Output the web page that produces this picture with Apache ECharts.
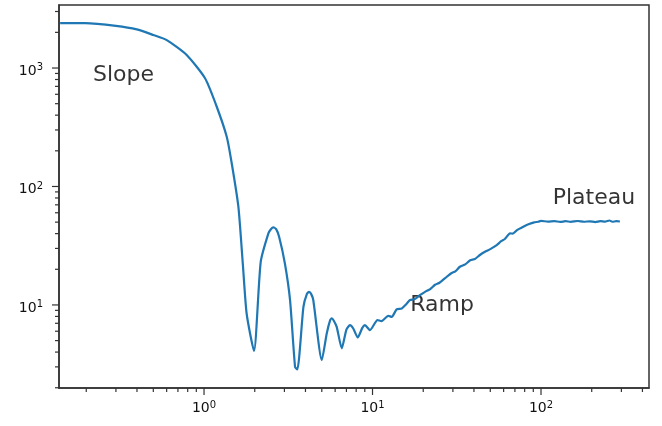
<!DOCTYPE html>
<html>
<head>
<meta charset="utf-8">
<script src="https://cdn.jsdelivr.net/npm/echarts@6/dist/echarts.min.js"></script>
<style>html,body{margin:0;padding:0;background:#fff}#chart{width:662px;height:426px}</style>
</head>
<body>
<div id="chart"></div>
<script>
// curve (log-log)
var xVals = [0.140, 0.197, 0.30, 0.399, 0.50, 0.601, 0.789, 1.014, 1.19, 1.364, 1.46, 1.599, 1.70, 1.79, 1.98,
  2.17, 2.41, 2.50, 2.58, 2.68, 2.79, 3.02, 3.24, 3.47, 3.58, 3.89, 4.08, 4.20, 4.32, 4.45, 5.0, 5.35, 5.60, 5.73, 5.88, 6.13, 6.57, 7.0, 7.35, 7.7,
  8.17, 8.7, 9.02, 9.66, 10.7, 11.3, 12.4, 13.0, 13.9, 14.9, 15.8, 16.7, 17.8, 19.1, 20.5, 22, 23.5, 25,
  27.6, 29.5, 31, 33, 35.5, 38, 40.5, 43.4, 46.5, 50, 54.6, 58, 61, 65.5, 68, 72, 78.5, 85, 91, 96.4,
  100, 110, 120, 130, 140, 150, 165, 180, 195, 210, 225, 240, 255, 265, 280, 294];
var yVals = [2390, 2390, 2270, 2120, 1900, 1720, 1288, 819, 471, 263, 157, 67.5, 22, 8.47, 4.09,
  23.1, 40.2, 43.8, 45.2, 43.6, 37.6, 22.4, 11.0, 3.0, 2.85, 9.64, 12.4, 12.9, 12.4, 11.0, 3.42, 5.74, 7.4, 7.69, 7.4, 6.53, 4.30, 6.2, 6.75, 6.3,
  5.31, 6.4, 6.75, 6.12, 7.45, 7.3, 8.09, 7.93, 9.16, 9.34, 10.1, 11.0, 11.2, 12.1, 12.9, 13.6, 14.8, 15.4,
  17.3, 18.6, 19.2, 21.0, 22.0, 23.8, 24.4, 26.4, 28.1, 29.6, 32.0, 34.5, 36.0, 40.2, 40.0, 42.8, 45.7, 48.2, 49.8, 50.4,
  51.2, 50.6, 51.0, 50.2, 50.9, 50.3, 51.1, 50.4, 50.8, 50.1, 50.9, 50.5, 51.6, 50.4, 50.9, 50.6];

var notes = ['Slope', 'Ramp', 'Plateau'];
var noteX = [0.333, 25.9, 206];
var noteY = [873, 9.96, 79.3];

var xRange = [0.1378, 437.5];
var yRange = [1.99, 3404];

// tick positions on the log axes (1..9 x 10^n inside the range)
function logTicks(r) {
  var out = [];
  for (var e = Math.floor(Math.log10(r[0])); e <= Math.ceil(Math.log10(r[1])); e++) {
    for (var m = 1; m <= 9; m++) {
      var v = m * Math.pow(10, e);
      if (v >= r[0] * 1.001 && v <= r[1] * 0.999) out.push([v, m === 1 ? 1 : 0]);
    }
  }
  return out;
}

function powLabel(v) {
  var lg = Math.log10(v), e = Math.round(lg);
  if (Math.abs(lg - e) > 1e-6) return '';
  return '10{s|' + e + '}';
}

var tickColor = '#333';
var labelRich = { s: { fontSize: 10, fontFamily: 'DejaVu Sans', color: '#111', padding: [0, 0, 7, 0] } };

var lineData = xVals.map(function (x, i) { return [x, yVals[i]]; });
var noteData = notes.map(function (t, i) { return [noteX[i], noteY[i], t]; });
var xTickData = logTicks(xRange).map(function (t) { return [t[0], yRange[0], t[1]]; });
var yTickData = logTicks(yRange).map(function (t) { return [xRange[0], t[0], t[1]]; });

var chart = echarts.init(document.getElementById('chart'));
chart.setOption({
  animation: false,
  backgroundColor: '#fff',
  grid: { left: 59, right: 13, top: 5, bottom: 38, show: true, borderColor: tickColor, borderWidth: 1.5 },
  xAxis: {
    type: 'log', logBase: 10, min: xRange[0], max: xRange[1],
    axisLine: { show: true, lineStyle: { color: tickColor, width: 1.5 } },
    axisTick: { show: false }, splitLine: { show: false },
    axisLabel: { formatter: powLabel, showMinLabel: false, showMaxLabel: false, margin: 12,
      color: '#111', fontSize: 14, fontFamily: 'DejaVu Sans', rich: labelRich }
  },
  yAxis: {
    type: 'log', logBase: 10, min: yRange[0], max: yRange[1],
    axisLine: { show: true, lineStyle: { color: tickColor, width: 1.5 } },
    axisTick: { show: false }, splitLine: { show: false },
    axisLabel: { formatter: powLabel, showMinLabel: false, showMaxLabel: false, margin: 16,
      color: '#111', fontSize: 14, fontFamily: 'DejaVu Sans', rich: labelRich, padding: [6, 0, 0, 0] }
  },
  series: [
    {
      type: 'line', data: lineData, showSymbol: false, smooth: 0.2,
      lineStyle: { color: '#1f77b4', width: 2.2 }, z: 3
    },
    {
      type: 'custom', data: xTickData, clip: false, silent: true,
      renderItem: function (params, api) {
        var p = api.coord([api.value(0), api.value(1)]);
        var len = api.value(2) ? 7 : 4;
        return { type: 'line', shape: { x1: p[0], y1: p[1], x2: p[0], y2: p[1] + len },
          style: { stroke: tickColor, lineWidth: 1.2 } };
      }
    },
    {
      type: 'custom', data: yTickData, clip: false, silent: true,
      renderItem: function (params, api) {
        var p = api.coord([api.value(0), api.value(1)]);
        var len = api.value(2) ? 7 : 4;
        return { type: 'line', shape: { x1: p[0] - len, y1: p[1], x2: p[0], y2: p[1] },
          style: { stroke: tickColor, lineWidth: 1.2 } };
      }
    },
    {
      type: 'scatter', data: noteData, symbolSize: 0, silent: true,
      label: { show: true, position: 'inside', formatter: function (p) { return p.data[2]; },
        color: '#000', textBorderWidth: 0, fontSize: 22, fontFamily: 'DejaVu Sans' }
    }
  ]
});
</script>
</body>
</html>
